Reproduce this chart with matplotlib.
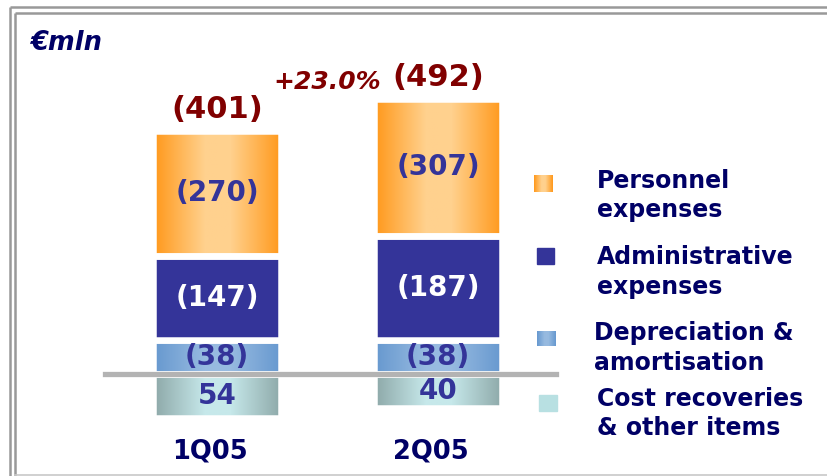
import matplotlib
matplotlib.use("Agg")
import matplotlib.pyplot as plt
import numpy as np
from matplotlib.colors import LinearSegmentedColormap
from matplotlib.transforms import blended_transform_factory

# data (EUR mln)
quarters = ["1Q05", "2Q05"]
totals = ["(401)", "(492)"]
growth = "+23.0%"
personnel = [270, 307]
administrative = [147, 187]
depreciation = [38, 38]
recoveries = [54, 40]
legend_labels = ["Personnel\nexpenses", "Administrative\nexpenses",
                 "Depreciation &\namortisation", "Cost recoveries\n& other items"]

W, H = 827, 476
NAVY = "#000066"
BLUE = "#343499"
DARKRED = "#800000"

fig = plt.figure(figsize=(W / 100, H / 100), dpi=100)
ax = fig.add_axes([0, 0, 1, 1])
ax.set_axis_off()

# power scale: small segments stay readable, like the original slide
P = 0.8


def fwd(y):
    y = np.asarray(y, dtype=float)
    return np.sign(y) * np.abs(y) ** P


def inv(y):
    y = np.asarray(y, dtype=float)
    return np.sign(y) * np.abs(y) ** (1 / P)


ax.set_yscale("function", functions=(fwd, inv))

K = 1.81            # pixels per scaled unit
base_px = 373.5     # baseline position from top
lw_gap = 6.5        # white gap between segments, px
bar_w = (122 + lw_gap) / 221
x = np.arange(len(quarters))


def grad_cmap(edge, mid):
    return LinearSegmentedColormap.from_list("g", [(0, edge), (0.4, mid), (0.6, mid), (1, edge)])


cm_orange = grad_cmap("#FF981A", "#FFD18E")
cm_dep = grad_cmap("#6698CF", "#97BAE0")
cm_cost = grad_cmap("#8DA8A8", "#C6E8EA")
ramp = np.linspace(0, 1, 256)[None, :]


def shade(bars, cmap):
    for b in bars:
        x0, y0 = b.get_x(), b.get_y()
        im = ax.imshow(ramp, cmap=cmap, aspect="auto", interpolation="bilinear",
                       extent=(x0, x0 + b.get_width(), y0, y0 + b.get_height()),
                       zorder=2)
        im.set_clip_path(b)


dep = np.array(depreciation)
adm = np.array(administrative)
per = np.array(personnel)
rec = np.array(recoveries)

adm_bottom = dep
per_bottom = adm_bottom + adm
tops = per_bottom + per

edge = dict(edgecolor="white", linewidth=lw_gap * 0.72, zorder=3)
b_rec = ax.bar(x, rec, bar_w, bottom=-rec, facecolor="none", **edge)
b_dep = ax.bar(x, dep, bar_w, bottom=0, facecolor="none", **edge)
b_adm = ax.bar(x, adm, bar_w, bottom=adm_bottom, facecolor=BLUE, **edge)
b_per = ax.bar(x, per, bar_w, bottom=per_bottom, facecolor="none", **edge)
shade(b_rec, cm_cost)
shade(b_dep, cm_dep)
shade(b_per, cm_orange)


def mid(b, t):
    return inv((fwd(b) + fwd(t)) / 2)


lab = dict(ha="center", va="center", fontsize=20, fontweight="bold", zorder=6)
for i in range(len(x)):
    ax.text(x[i], mid(per_bottom[i], tops[i]), "(%d)" % per[i], color=BLUE, **lab)
    ax.text(x[i], mid(adm_bottom[i], per_bottom[i]), "(%d)" % adm[i], color="white", **lab)
    ax.text(x[i], mid(0, dep[i]), "(%d)" % dep[i], color=BLUE, **lab)
    ax.text(x[i], mid(-rec[i], 0), "%d" % rec[i], color=BLUE, **lab)
    ax.annotate(totals[i], (x[i], tops[i]), xytext=(0, 5), textcoords="offset points",
                ha="center", va="bottom", fontsize=22, fontweight="bold", color=DARKRED)

ax.annotate(growth, (x.mean(), tops[1]), xytext=(0, 12), textcoords="offset points",
            ha="center", va="center", fontsize=18, fontweight="bold", style="italic",
            color=DARKRED)

# baseline
ax.axhline(0, xmin=105 / W, xmax=556 / W, color="#B3B3B3", lw=3.8, zorder=5)

# category labels
tr = blended_transform_factory(ax.transData, ax.transAxes)
for i, q in enumerate(quarters):
    ax.annotate(q, (x[i], 1 - 452 / H), xycoords=tr, xytext=(-5, 0),
                textcoords="offset points", ha="center", va="center",
                fontsize=18.5, fontweight="bold", color=NAVY)

ax.set_xlim(-217 / 221, (W - 217) / 221)
ax.set_ylim(float(inv(-(H - base_px) / K)), float(inv(base_px / K)))

# overlay in pixel coordinates for frame and legend
lax = fig.add_axes([0, 0, 1, 1])
lax.set_axis_off()
lax.patch.set_alpha(0)

fr = dict(color="#999999", lw=1.8, solid_capstyle="butt", clip_on=False)
lax.plot([10, W], [7, 7], **fr)
lax.plot([10, 10], [7, H], **fr)
lax.plot([15, W], [13, 13], **fr)
lax.plot([15, 15], [13, H], **fr)
lax.plot([15, W], [475, 475], color="#C8C8C8", lw=1.2, clip_on=False)

lax.text(30, 43, "\u20acmln", fontsize=18.5, fontweight="bold", style="italic",
         color=NAVY, ha="left", va="center")

# legend
squares = [(534, 553, 175, 192, cm_orange), (537, 554, 248, 264, None),
           (537, 556, 331, 346, cm_dep), (539, 557, 395, 411, "#B8E0E2")]
text_pos = [(597, 195.5), (597, 272), (594, 348), (597, 413.5)]
for (x0, x1, y0, y1, c), (tx, ty), lbl in zip(squares, text_pos, legend_labels):
    if c is None:
        lax.add_patch(plt.Rectangle((x0, y0), x1 - x0, y1 - y0, color=BLUE))
    elif isinstance(c, str):
        lax.add_patch(plt.Rectangle((x0, y0), x1 - x0, y1 - y0, color=c))
    else:
        lax.imshow(ramp, cmap=c, aspect="auto", extent=(x0, x1, y1, y0))
    lax.text(tx, ty, lbl, fontsize=17, fontweight="bold", color=NAVY,
             ha="left", va="center", linespacing=1.27)
lax.set_xlim(0, W)
lax.set_ylim(H, 0)

fig.savefig("out.png", dpi=100)
